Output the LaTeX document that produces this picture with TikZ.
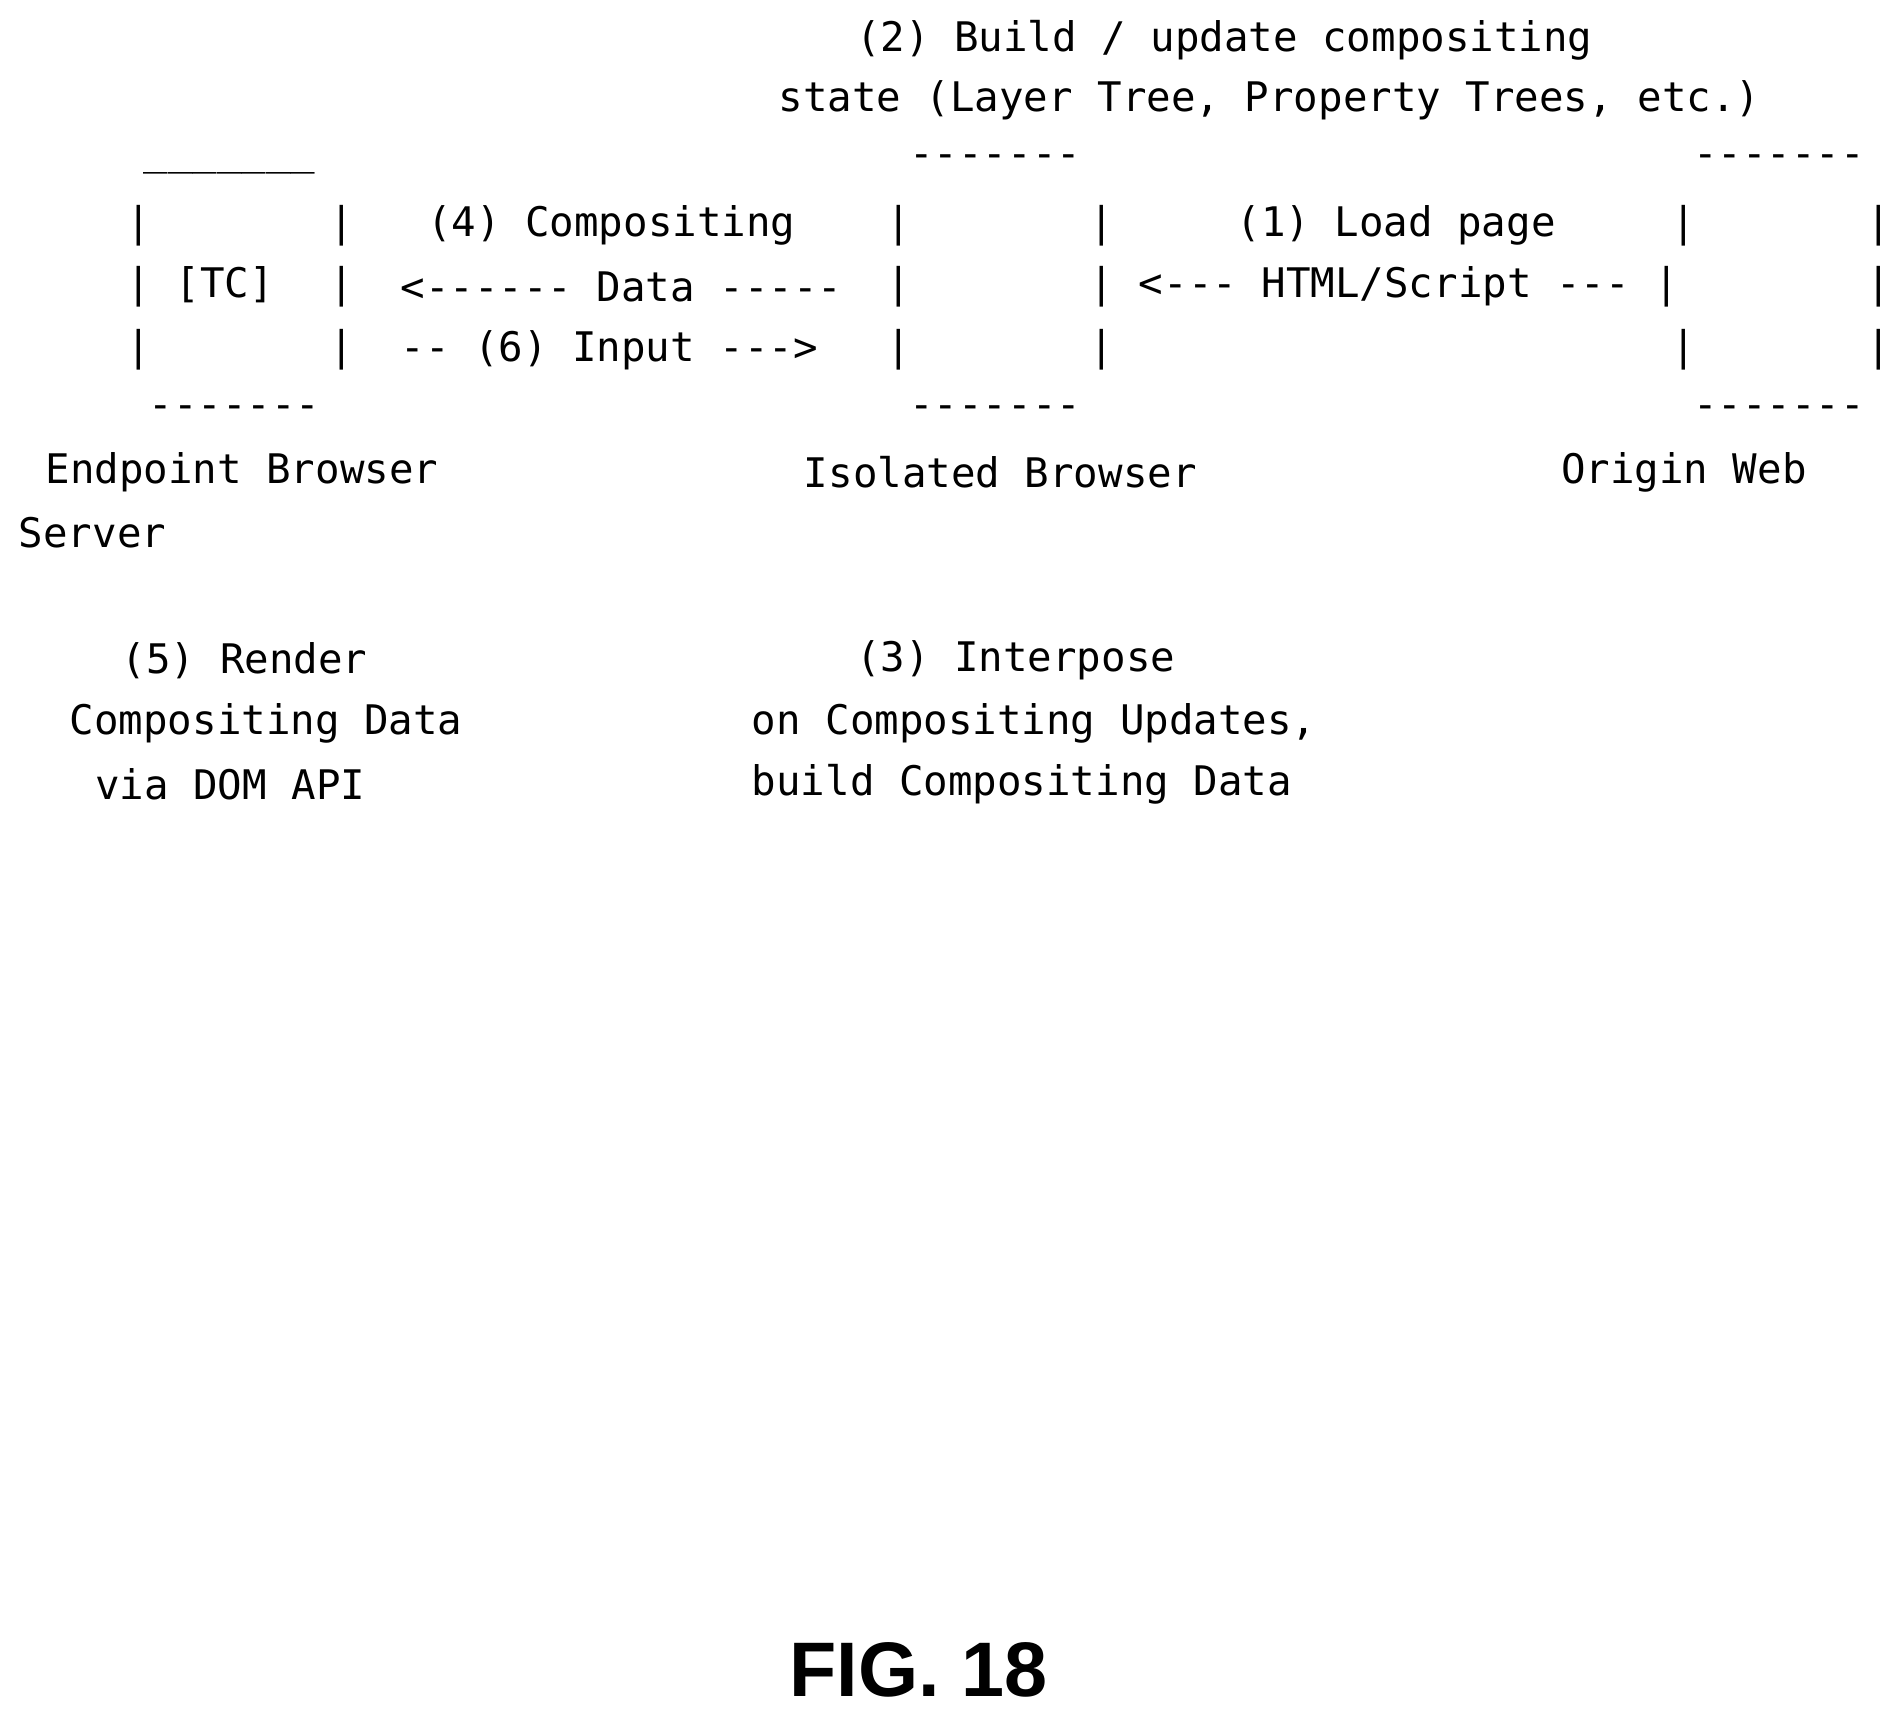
\documentclass[tikz,border=0pt]{standalone}
\usepackage{fontspec}
\setmonofont{DejaVu Sans Mono}
\setsansfont{Liberation Sans}
\begin{document}
\begin{tikzpicture}[x=0.012115cm,y=-0.012115cm,
  art/.style={anchor=west,inner sep=0pt,font=\ttfamily\fontsize{11.6}{12}\selectfont},
  figlabel/.style={inner sep=0pt,font=\sffamily\bfseries\fontsize{22}{24}\selectfont}]
  % Fix the page size
  \useasboundingbox (0,0) rectangle (1560,1413);

  % Heading over the isolated browser
  \node[art] (build) at (706,33) {(2) Build / update compositing};
  \node[art] (state) at (642,83) {state (Layer Tree, Property Trees, etc.)};

  % Box tops
  \node[art] (tctop) at (118,140) {\_\_\_\_\_\_\_};
  \node[art] (ibtop) at (750,133) {-------};
  \node[art] (owtop) at (1397,133) {-------};

  % First row
  \node[art] (tcl1) at (104,186) {|};
  \node[art] (tcr1) at (271,186) {|};
  \node[art] (comp) at (352,186) {(4) Compositing};
  \node[art] (ibl1) at (731,186) {|};
  \node[art] (ibr1) at (899,186) {|};
  \node[art] (load) at (1020,186) {(1) Load page};
  \node[art] (owl1) at (1379,186) {|};
  \node[art] (owr1) at (1540,186) {|};

  % Second row
  \node[art] (tcl2) at (104,237) {| [TC]};
  \node[art] (tcr2) at (271,237) {|};
  \node[art] (data) at (330,237) {<------ Data -----};
  \node[art] (ibl2) at (731,237) {|};
  \node[art] (html) at (899,237) {| <--- HTML/Script --- |};
  \node[art] (owr2) at (1540,237) {|};

  % Third row
  \node[art] (tcl3) at (104,289) {|};
  \node[art] (tcr3) at (271,289) {|};
  \node[art] (input) at (330,289) {-- (6) Input --->};
  \node[art] (ibl3) at (731,289) {|};
  \node[art] (ibr3) at (899,289) {|};
  \node[art] (owl3) at (1379,289) {|};
  \node[art] (owr3) at (1540,289) {|};

  % Box bottoms
  \node[art] (tcbot) at (122,340) {-------};
  \node[art] (ibbot) at (750,340) {-------};
  \node[art] (owbot) at (1397,340) {-------};

  % Names
  \node[art] (endpoint) at (37,390) {Endpoint Browser};
  \node[art] (server) at (15,440) {Server};
  \node[art] (isolated) at (663,390) {Isolated Browser};
  \node[art] (origin) at (1288,390) {Origin Web};

  % Steps below
  \node[art] (render1) at (100,545) {(5) Render};
  \node[art] (render2) at (57,597) {Compositing Data};
  \node[art] (render3) at (78,647) {via DOM API};
  \node[art] (inter1) at (706,545) {(3) Interpose};
  \node[art] (inter2) at (620,597) {on Compositing Updates,};
  \node[art] (inter3) at (620,647) {build Compositing Data};

  \node[figlabel] (fig) at (758,1378) {FIG. 18};
\end{tikzpicture}
\end{document}
